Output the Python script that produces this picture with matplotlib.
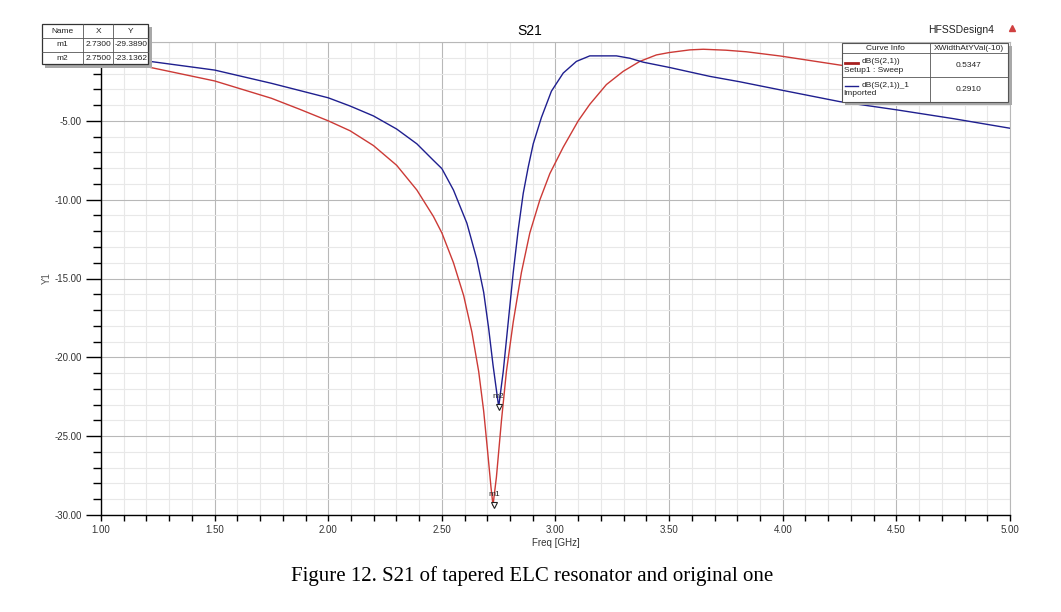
import matplotlib
matplotlib.use("Agg")
import matplotlib.pyplot as plt
from matplotlib.patches import Rectangle
from matplotlib.lines import Line2D
import matplotlib.transforms as mtransforms
import numpy as np

# ---------------- data ----------------
red_freq = [1.00, 1.20, 1.50, 1.75, 1.875, 2.00, 2.096, 2.199, 2.301, 2.39, 2.463, 2.50,
            2.551, 2.596, 2.632, 2.662, 2.684, 2.701, 2.716, 2.725, 2.740, 2.762, 2.784,
            2.814, 2.85, 2.887, 2.931, 2.975, 3.034, 3.10, 3.151, 3.224, 3.298, 3.371,
            3.444, 3.50, 3.591, 3.65, 3.75, 3.84, 3.99, 4.25, 4.50, 4.75, 5.00]
red_db = [-1.00, -1.56, -2.47, -3.57, -4.27, -5.00, -5.63, -6.57, -7.82, -9.39, -11.07, -12.11,
          -14.0, -16.09, -18.39, -20.9, -23.41, -25.92, -28.22, -29.39, -27.6, -24.04, -20.9,
          -17.76, -14.62, -12.11, -10.02, -8.35, -6.67, -5.0, -3.95, -2.70, -1.86, -1.23,
          -0.82, -0.67, -0.50, -0.46, -0.52, -0.62, -0.89, -1.46, -2.0, -2.5, -3.0]

blue_freq = [1.00, 1.20, 1.50, 1.75, 1.875, 2.00, 2.096, 2.199, 2.301, 2.39, 2.463, 2.50,
             2.551, 2.61, 2.654, 2.684, 2.706, 2.725, 2.75, 2.770, 2.792, 2.814, 2.836,
             2.858, 2.880, 2.902, 2.938, 2.982, 3.034, 3.092, 3.151, 3.268, 3.327, 3.386,
             3.50, 3.591, 3.679, 3.81, 3.99, 4.25, 4.50, 4.75, 5.00]
blue_db = [-0.81, -1.20, -1.78, -2.62, -3.08, -3.54, -4.06, -4.69, -5.52, -6.46, -7.51, -8.03,
           -9.39, -11.49, -13.79, -15.88, -18.18, -20.48, -23.14, -20.9, -17.76, -14.62, -11.9,
           -9.6, -7.93, -6.46, -4.79, -3.12, -1.97, -1.23, -0.88, -0.88, -1.03, -1.28,
           -1.61, -1.9, -2.18, -2.52, -3.04, -3.78, -4.3, -4.86, -5.47]

markers = ["m1", "m2"]
marker_x = [2.7300, 2.7500]
marker_y = [-29.3890, -23.1362]

curve_names = ["dB(S(2,1))", "dB(S(2,1))_1"]
curve_sources = ["Setup1 : Sweep", "Imported"]
curve_widths = ["0.5347", "0.2910"]

x_ticks = [1.0, 1.5, 2.0, 2.5, 3.0, 3.5, 4.0, 4.5, 5.0]
y_ticks = [-30, -25, -20, -15, -10, -5, 0]

RED = "#cc3a36"
BLUE = "#1f1f8f"

# ---------------- figure ----------------
W, H = 1061, 612
fig = plt.figure(figsize=(W / 100, H / 100), dpi=100)
plt.rcParams["font.family"] = ["Liberation Sans", "DejaVu Sans"]

# pixel transform (top-left origin)
pt = mtransforms.Affine2D().scale(1 / W, -1 / H).translate(0, 1) + fig.transFigure

ax = fig.add_axes([101 / W, 1 - 515 / H, 909 / W, 473 / H])
ax.set_xlim(1.0, 5.0)
ax.set_ylim(-30, 0)

ax.plot(red_freq, red_db, color=RED, lw=1.0, zorder=3)
ax.plot(blue_freq, blue_db, color=BLUE, lw=1.0, zorder=3)

ax.set_xticks(x_ticks)
ax.set_xticklabels(["%.2f" % v for v in x_ticks])
ax.set_yticks(y_ticks)
# the 0.00 label sits under the marker table in the reference
ax.set_yticklabels(["%.2f" % v if v != 0 else "" for v in y_ticks])
ax.set_xticks(np.arange(1.0, 5.0001, 0.1), minor=True)
ax.set_yticks(np.arange(-30, 0.001, 1), minor=True)

ax.grid(which="minor", color="#e8e8e8", lw=0.8, zorder=0)
ax.grid(which="major", color="#b8b8b8", lw=0.8, zorder=0)
ax.set_axisbelow(True)

for s in ["top", "right"]:
    ax.spines[s].set_color("#b8b8b8")
    ax.spines[s].set_linewidth(0.8)
for s in ["left", "bottom"]:
    ax.spines[s].set_color("black")
    ax.spines[s].set_linewidth(1.0)

ax.tick_params(axis="y", which="major", direction="out", length=11, width=1, pad=3,
               labelsize=7, labelcolor="#333333")
ax.tick_params(axis="y", which="minor", direction="out", length=6, width=1)
ax.tick_params(axis="x", which="both", direction="out", length=4, width=1, pad=3,
               labelsize=7, labelcolor="#333333")

ax.set_xlabel("Freq [GHz]", fontsize=7, color="#333333", labelpad=2)
ax.set_ylabel("Y1", fontsize=7, color="#555555", labelpad=2)

# markers
for name, mx, my in zip(markers, marker_x, marker_y):
    ax.plot([mx], [my], marker="v", markersize=5, markerfacecolor="white",
            markeredgecolor="#222222", markeredgewidth=0.8, zorder=5, linestyle="none")
    ax.annotate(name, (mx, my), xytext=(0, 5), textcoords="offset points",
                ha="center", va="bottom", fontsize=6, color="#222222", zorder=6)

# titles
fig.text(530 / W, 1 - 31 / H, "S21", ha="center", va="center", fontsize=10)
fig.text(961 / W, 1 - 30 / H, "HFSSDesign4", ha="center", va="center", fontsize=7.5, color="#222222")
fig.add_artist(Line2D([1012], [28], marker="^", markersize=4, color="#d04040",
                      transform=pt, linestyle="none"))

# ---------------- helpers ----------------
def box(x0, y0, x1, y1, fc="white", ec="#333333", lw=0.8, z=10):
    fig.add_artist(Rectangle((x0, y0), x1 - x0, y1 - y0, transform=pt, facecolor=fc,
                             edgecolor=ec, linewidth=lw, zorder=z))

def hline(x0, x1, y, c="#555555", lw=0.6, z=12):
    fig.add_artist(Line2D([x0, x1], [y, y], color=c, lw=lw, transform=pt, zorder=z))

def vline(x, y0, y1, c="#555555", lw=0.6, z=12):
    fig.add_artist(Line2D([x, x], [y0, y1], color=c, lw=lw, transform=pt, zorder=z))

def txt(x, y, s, ha="center", size=6, c="#222222"):
    fig.text(x, y, s, transform=pt, ha=ha, va="center", fontsize=size, color=c, zorder=13)

# ---------------- marker table (top-left) ----------------
box(44.5, 27, 151.5, 67.5, fc="#a8a8a8", ec="none", z=9)
box(41.7, 24, 148.3, 64.3, fc="white", ec="#333333", lw=0.9, z=10)
hline(41.7, 148.3, 38.3)
hline(41.7, 148.3, 51.7)
vline(83.3, 24, 64.3)
vline(113.3, 24, 64.3)
txt(62.5, 31.5, "Name")
txt(98.3, 31.5, "X")
txt(130.8, 31.5, "Y")
for i, (name, mx, my) in enumerate(zip(markers, marker_x, marker_y)):
    yy = 45 + i * 13
    txt(62.5, yy, name)
    txt(98.3, yy, "%.4f" % mx)
    txt(130.8, yy, "%.4f" % my)

# ---------------- curve info table (top-right) ----------------
box(844.5, 46, 1012, 105, fc="#a8a8a8", ec="none", z=9)
box(841.7, 43.3, 1008.3, 101.7, fc="white", ec="#555555", lw=0.8, z=10)
hline(841.7, 1008.3, 53.3)
hline(841.7, 1008.3, 76.7)
vline(930, 43.3, 101.7)
txt(885.8, 48.5, "Curve Info")
txt(969, 48.5, "XWidthAtYVal(-10)")
colors = ["#a82020", BLUE]
lws = [2.0, 1.0]
for i in range(2):
    y0 = 53.3 + i * 23.4
    fig.add_artist(Line2D([845, 858], [y0 + 9.5, y0 + 9.5], color=colors[i], lw=lws[i],
                          transform=pt, zorder=12))
    txt(861.5, y0 + 8.5, curve_names[i], ha="left")
    txt(843.5, y0 + 17, curve_sources[i], ha="left")
    txt(969, y0 + 12.5, curve_widths[i])

# ---------------- caption ----------------
fig.text(532 / W, 1 - 576 / H, "Figure 12. S21 of tapered ELC resonator and original one",
         ha="center", va="center", fontsize=15, family=["Liberation Serif", "DejaVu Serif"])

fig.savefig("out.png", dpi=100)
